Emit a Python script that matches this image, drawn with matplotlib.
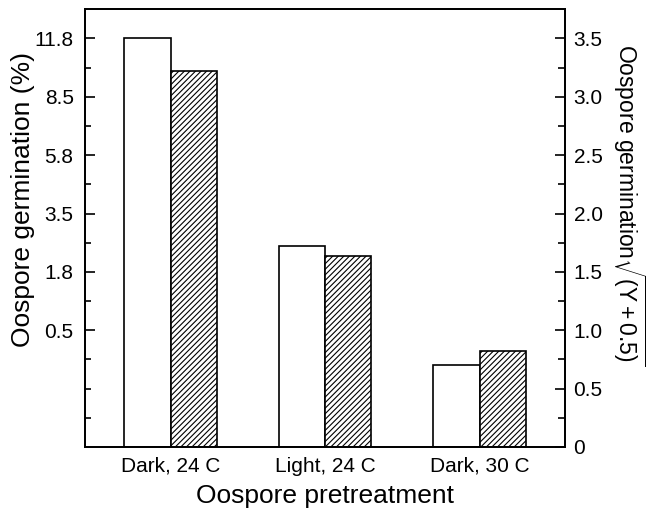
import matplotlib
matplotlib.use("Agg")
import matplotlib.pyplot as plt
import numpy as np

plt.rcParams['font.family'] = ['Liberation Sans', 'DejaVu Sans']
plt.rcParams['mathtext.fontset'] = 'custom'
plt.rcParams['mathtext.rm'] = 'Liberation Sans'
plt.rcParams['mathtext.it'] = 'Liberation Sans:italic'
plt.rcParams['hatch.linewidth'] = 0.8

categories = ["Dark, 24 C", "Light, 24 C", "Dark, 30 C"]
open_values = [3.50, 1.72, 0.70]
hatched_values = [3.22, 1.64, 0.82]
left_tick_values = [1.0, 1.5, 2.0, 2.5, 3.0, 3.5]
left_tick_labels = ["0.5", "1.8", "3.5", "5.8", "8.5", "11.8"]
right_tick_values = [0, 0.5, 1.0, 1.5, 2.0, 2.5, 3.0, 3.5]
right_tick_labels = ["0", "0.5", "1.0", "1.5", "2.0", "2.5", "3.0", "3.5"]

fig = plt.figure(figsize=(6.52, 5.12), dpi=100)
ax = fig.add_axes([0.130, 0.127, 0.737, 0.855])

x = np.arange(len(categories))
w = 0.30
ax.bar(x - w/2, open_values, width=w, color='white', edgecolor='black', linewidth=1.2)
ax.bar(x + w/2, hatched_values, width=w, color='white', edgecolor='black', linewidth=1.2,
       hatch='//////')

ax.set_xlim(-0.555, 2.555)
ax.set_ylim(0, 3.75)
ax.set_xticks(x)
ax.set_xticklabels(categories, fontsize=15)
ax.tick_params(axis='x', length=0, pad=7)

ax.set_yticks(left_tick_values)
ax.set_yticklabels(left_tick_labels, fontsize=15)
ax.set_yticks([0.25, 0.5, 0.75, 1.25, 1.75, 2.25, 2.75, 3.25], minor=True)
ax.tick_params(axis='y', which='major', direction='in', length=7.5, width=1.2, pad=8)
ax.tick_params(axis='y', which='minor', direction='in', length=4.5, width=1.2)
for s in ax.spines.values():
    s.set_linewidth(1.3)

ax2 = ax.twinx()
ax2.set_ylim(0, 3.75)
ax2.set_yticks(right_tick_values)
ax2.set_yticklabels(right_tick_labels, fontsize=15)
ax2.set_yticks([0.25, 0.75, 1.25, 1.75, 2.25, 2.75, 3.25], minor=True)
ax2.tick_params(axis='y', which='major', direction='in', length=7.5, width=1.2, pad=6)
ax2.tick_params(axis='y', which='minor', direction='in', length=5, width=1.2)
for s in ax2.spines.values():
    s.set_linewidth(1.3)

ax.set_xlabel("Oospore pretreatment", fontsize=19, labelpad=6)
ax.set_ylabel("Oospore germination (%)", fontsize=19)
ax.yaxis.set_label_coords(-0.103, 0.565)
ax2.set_ylabel(r"Oospore germination$\sqrt{\mathrm{(Y+0.5)}}$", fontsize=16.5, rotation=-90)
ax2.yaxis.set_label_coords(1.172, 0.553)

fig.savefig("out.png", dpi=100)
